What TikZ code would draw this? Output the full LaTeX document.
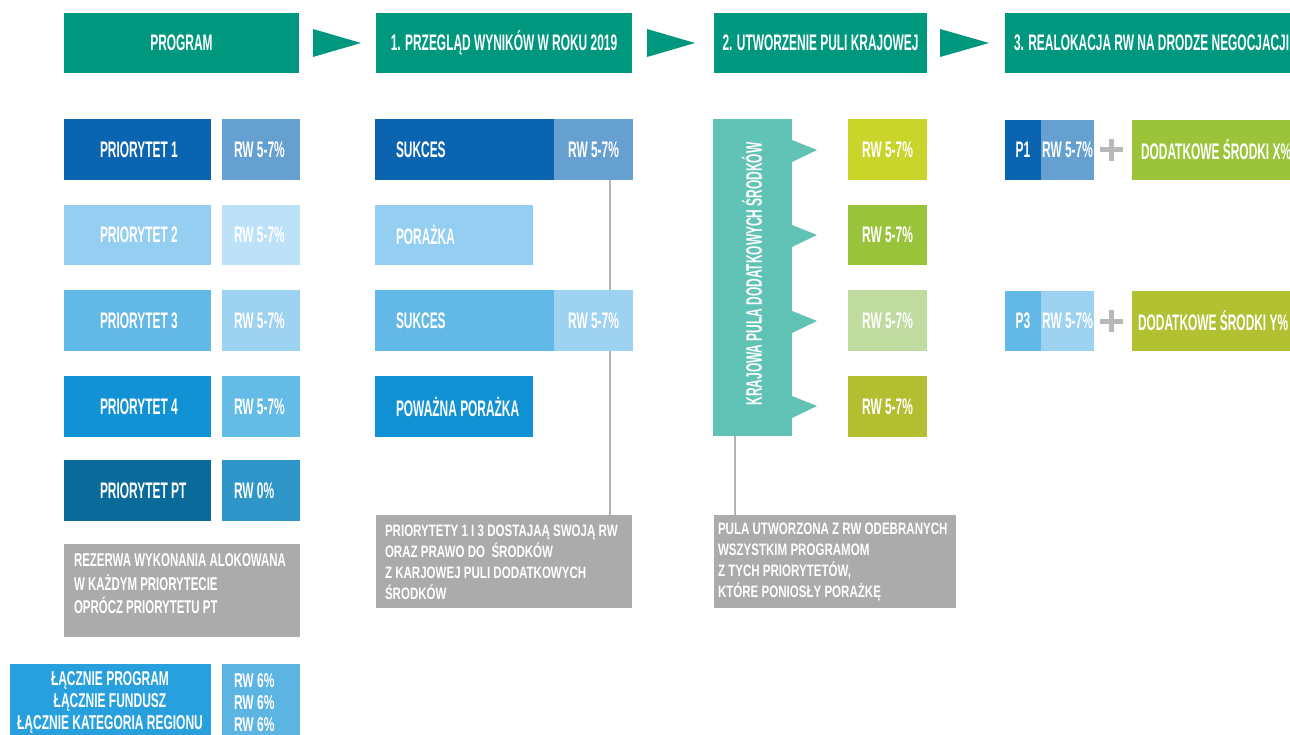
\documentclass[tikz,border=0pt]{standalone}
\usepackage{fontspec}
\newfontfamily\fntA{Liberation Sans}[FakeStretch=0.53]
\newfontfamily\fntB{Liberation Sans}[FakeStretch=0.70]
\newfontfamily\fntC{Liberation Sans}[FakeStretch=0.62]
\newfontfamily\fntD{Liberation Sans}[FakeStretch=0.60]
\definecolor{hdteal}{HTML}{00977F}
\definecolor{cA}{HTML}{0A64B0}
\definecolor{cAr}{HTML}{65A0D0}
\definecolor{cB}{HTML}{94CFF2}
\definecolor{cBr}{HTML}{BDE2F7}
\definecolor{cC}{HTML}{62B8E6}
\definecolor{cCr}{HTML}{9DD2F0}
\definecolor{cD}{HTML}{1192D4}
\definecolor{cDr}{HTML}{64BCE6}
\definecolor{cE}{HTML}{0A6B9B}
\definecolor{cEr}{HTML}{2E96C8}
\definecolor{grayb}{HTML}{ABABAB}
\definecolor{linegray}{HTML}{B3B3B3}
\definecolor{botA}{HTML}{28A0DD}
\definecolor{botB}{HTML}{5CB4E2}
\definecolor{poolc}{HTML}{61C3B5}
\definecolor{gnA}{HTML}{CAD52B}
\definecolor{gnB}{HTML}{9AC33C}
\definecolor{gnC}{HTML}{BFDB9F}
\definecolor{gnD}{HTML}{B3BE30}
\definecolor{gnX}{HTML}{9BC43B}
\definecolor{gnY}{HTML}{B1C132}
\definecolor{plusc}{HTML}{B8B8B8}
\newcommand\mybox[7]{\node[box, fill=#6, minimum width={(#4-#2)*1pt}, minimum height={(#5-#3)*1pt}] (#1) at ({(#2+#4)/2},{(#3+#5)/2}) {#7};}
\newcommand\mylab[4]{\node[lbl, anchor=west] (#1) at (#2,#3) {#4};}
\begin{document}
\begin{tikzpicture}[x=1pt,y=-1pt,
  box/.style={rectangle, inner sep=0pt, outer sep=0pt, draw=none, text=white,
    font=\fntA\bfseries\fontsize{22.5}{24}\selectfont},
  lbl/.style={inner sep=0pt, outer sep=0pt, text=white,
    font=\fntA\bfseries\fontsize{22.5}{24}\selectfont},
  smalltxt/.style={inner sep=0pt, outer sep=0pt, text=white, align=left,
    font=\fntB\bfseries\fontsize{16.5}{21}\selectfont},
  conn/.style={draw=linegray, line width=2pt},
  plusst/.style={draw=plusc, line width=5pt},
  hdarrow/.style={fill=hdteal}]
\useasboundingbox (0,0) rectangle (1290,735);
\clip (0,0) rectangle (1290,735);
\fill[white] (0,0) rectangle (1290,735);

% connectors (behind boxes)
\coordinate (c1) at (610,180);
\coordinate (c2) at (735,436);
\coordinate (c1e) at (610,515);
\coordinate (c2e) at (735,515);
\draw[conn] (c1) -- (c1e);
\draw[conn] (c2) -- (c2e);

% header row
\mybox{h0}{64}{13}{299}{73}{hdteal}{PROGRAM}
\mybox{h1}{376}{13}{632}{73}{hdteal}{1. PRZEGLĄD WYNIKÓW W ROKU 2019}
\mybox{h2}{714}{13}{927}{73}{hdteal}{2. UTWORZENIE PULI KRAJOWEJ}
\mybox{h3}{1005}{13}{1300}{73}{hdteal}{}
\mylab{h3t}{1014}{43}{3. REALOKACJA RW NA DRODZE NEGOCJACJI}
\fill[hdarrow] (313,29) -- (361,43) -- (313,57) -- cycle;
\fill[hdarrow] (647,29) -- (695,43) -- (647,57) -- cycle;
\fill[hdarrow] (940,29) -- (989,43) -- (940,57) -- cycle;

% left column: priorities
\mybox{p1}{64}{119}{211}{180}{cA}{}
\mybox{q1}{222}{119}{300}{180}{cAr}{}
\mylab{p1t}{100}{150}{PRIORYTET 1}
\mylab{q1t}{234}{150}{RW 5-7\%}
\mybox{p2}{64}{205}{211}{265}{cB}{}
\mybox{q2}{222}{205}{300}{265}{cBr}{}
\mylab{p2t}{100}{235}{PRIORYTET 2}
\mylab{q2t}{234}{235}{RW 5-7\%}
\mybox{p3}{64}{290}{211}{351}{cC}{}
\mybox{q3}{222}{290}{300}{351}{cCr}{}
\mylab{p3t}{100}{321}{PRIORYTET 3}
\mylab{q3t}{234}{321}{RW 5-7\%}
\mybox{p4}{64}{376}{211}{437}{cD}{}
\mybox{q4}{222}{376}{300}{437}{cDr}{}
\mylab{p4t}{100}{407}{PRIORYTET 4}
\mylab{q4t}{234}{407}{RW 5-7\%}
\mybox{p5}{64}{460}{211}{521}{cE}{}
\mybox{q5}{222}{460}{300}{521}{cEr}{}
\mylab{p5t}{100}{491}{PRIORYTET PT}
\mylab{q5t}{234}{491}{RW 0\%}

\mybox{g1}{64}{544}{300}{637}{grayb}{}
\node[smalltxt, anchor=west, font=\fntC\bfseries\fontsize{18.5}{23.5}\selectfont] (g1t) at (74,584)
  {REZERWA WYKONANIA ALOKOWANA\\W KAŻDYM PRIORYTECIE\\OPRÓCZ PRIORYTETU PT};

\mybox{b1}{10}{664}{211}{745}{botA}{}
\mybox{b2}{222}{664}{300}{745}{botB}{}
\node[smalltxt, align=center, font=\fntD\bfseries\fontsize{20}{22}\selectfont] (b1t) at (110,703)
  {ŁĄCZNIE PROGRAM\\ŁĄCZNIE FUNDUSZ\\ŁĄCZNIE KATEGORIA REGIONU};
\node[smalltxt, anchor=west, font=\fntD\bfseries\fontsize{20}{22}\selectfont] (b2t) at (234,703)
  {RW 6\%\\RW 6\%\\RW 6\%};

% middle column: results
\mybox{s1}{375}{119}{554}{180}{cA}{}
\mybox{s1r}{554}{119}{633}{180}{cAr}{RW 5-7\%}
\mylab{s1t}{396}{150}{SUKCES}
\mybox{f1}{375}{205}{533}{265}{cB}{}
\mylab{f1t}{396}{235}{PORAŻKA}
\mybox{s3}{375}{290}{554}{351}{cC}{}
\mybox{s3r}{554}{290}{633}{351}{cCr}{RW 5-7\%}
\mylab{s3t}{396}{321}{SUKCES}
\mybox{f2}{375}{376}{533}{437}{cD}{}
\mylab{f2t}{396}{407}{POWAŻNA PORAŻKA}

\mybox{g2}{376}{515}{632}{608}{grayb}{}
\node[smalltxt, anchor=west] (g2t) at (385,562)
  {PRIORYTETY 1 I 3 DOSTAJAĄ SWOJĄ RW\\ORAZ PRAWO DO \ ŚRODKÓW\\Z KARJOWEJ PULI DODATKOWYCH\\ŚRODKÓW};

% pool
\mybox{pool}{713}{119}{792}{436}{poolc}{}
\node[lbl, rotate=90] (poolt) at (752,274) {KRAJOWA PULA DODATKOWYCH ŚRODKÓW};
\foreach \yy in {150,235,321,406}{
  \fill[poolc] (792,\yy-10) -- (817,\yy) -- (792,\yy+12) -- cycle;
}
\mybox{r1}{848}{119}{927}{180}{gnA}{RW 5-7\%}
\mybox{r2}{848}{205}{927}{265}{gnB}{RW 5-7\%}
\mybox{r3}{848}{290}{927}{351}{gnC}{RW 5-7\%}
\mybox{r4}{848}{376}{927}{437}{gnD}{RW 5-7\%}

\mybox{g3}{714}{515}{956}{608}{grayb}{}
\node[smalltxt, anchor=west] (g3t) at (718,562)
  {PULA UTWORZONA Z RW ODEBRANYCH\\WSZYSTKIM PROGRAMOM\\Z TYCH PRIORYTETÓW,\\KTÓRE PONIOSŁY PORAŻKĘ};

% right column
\mybox{a1}{1005}{120}{1041}{180}{cA}{P1}
\mybox{a1r}{1041}{120}{1094}{180}{cAr}{RW 5-7\%}
\draw[plusst] (1100,150) -- (1123,150);
\draw[plusst] (1111.5,139) -- (1111.5,161);
\mybox{x1}{1132}{120}{1300}{180}{gnX}{}
\mylab{x1t}{1141}{150}{DODATKOWE ŚRODKI X\%}

\mybox{a3}{1005}{291}{1041}{351}{cC}{P3}
\mybox{a3r}{1041}{291}{1094}{351}{cCr}{RW 5-7\%}
\draw[plusst] (1100,321) -- (1123,321);
\draw[plusst] (1111.5,310) -- (1111.5,332);
\mybox{y1}{1132}{291}{1300}{351}{gnY}{}
\mylab{y1t}{1138}{321}{DODATKOWE ŚRODKI Y\%}
\end{tikzpicture}
\end{document}
